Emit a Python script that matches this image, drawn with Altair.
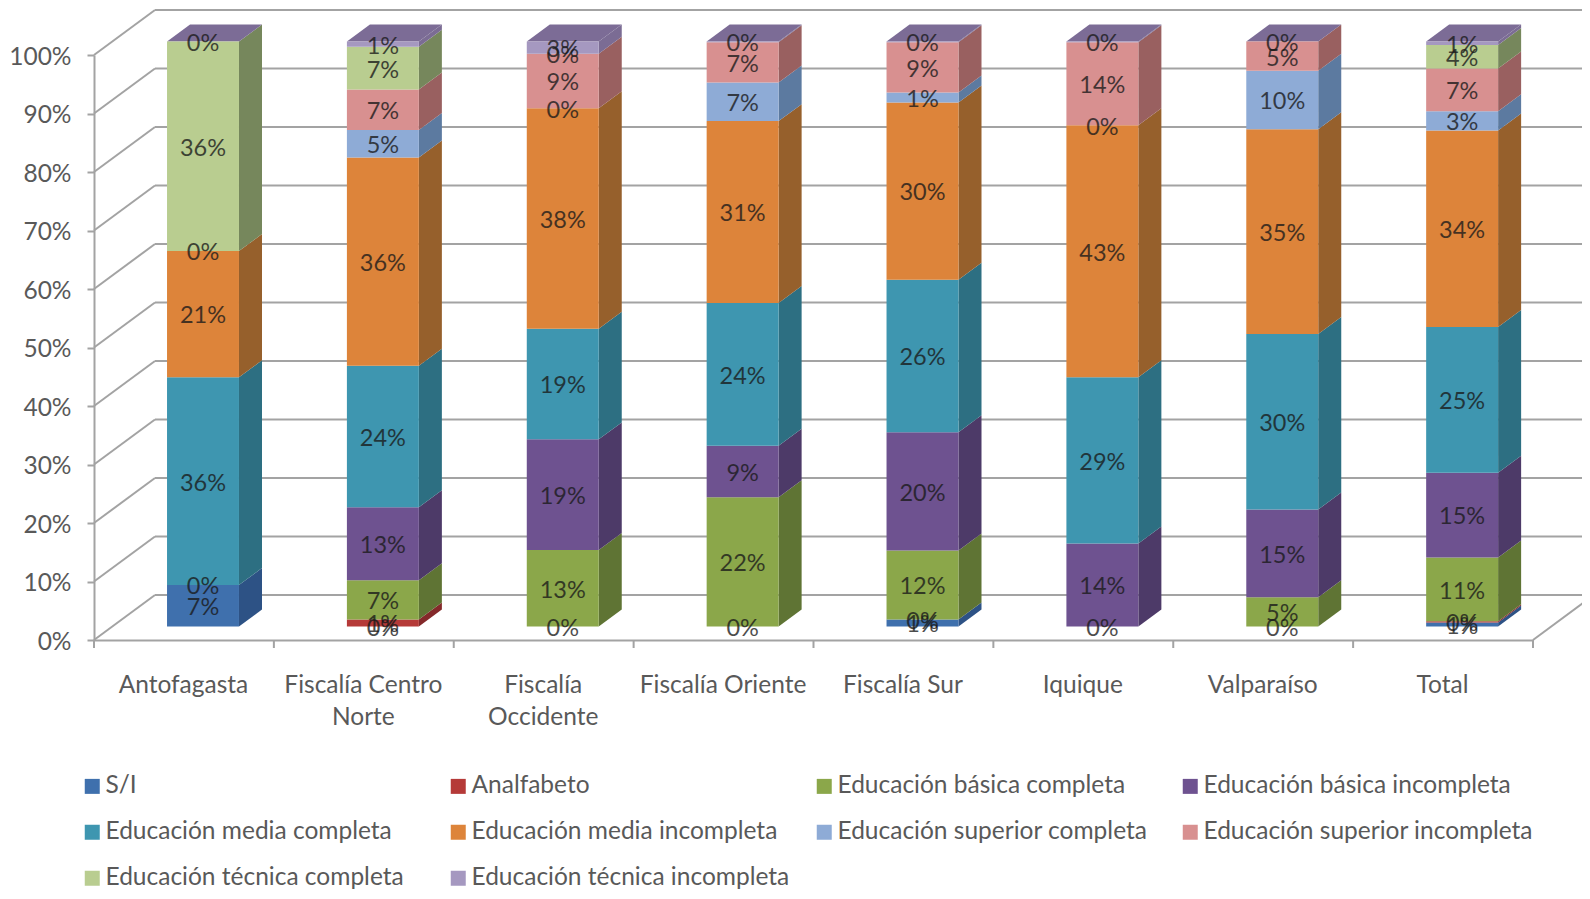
import json
import altair as alt
import pandas as pd

categories = ["Antofagasta", "Fiscalía Centro Norte", "Fiscalía Occidente", "Fiscalía Oriente",
              "Fiscalía Sur", "Iquique", "Valparaíso", "Total"]
category_lines = [["Antofagasta"], ["Fiscalía Centro", "Norte"], ["Fiscalía", "Occidente"], ["Fiscalía Oriente"],
                  ["Fiscalía Sur"], ["Iquique"], ["Valparaíso"], ["Total"]]
series = ["S/I", "Analfabeto", "Educación básica completa", "Educación básica incompleta",
          "Educación media completa", "Educación media incompleta", "Educación superior completa",
          "Educación superior incompleta", "Educación técnica completa", "Educación técnica incompleta"]
front_colors = ["#3f70ad", "#b53a38", "#8ba74a", "#6e5290", "#3e96b0", "#dd843a", "#8eabd6", "#d89090", "#b9cd90", "#a598c0"]
side_colors = ["#2d5285", "#84292a", "#5f7434", "#4d3a68", "#2d6f82", "#96602c", "#5c7aa0", "#996060", "#76875c", "#7b6c94"]
top_color = "#7c6c96"

v_antofagasta = [7.1, 0, 0, 0, 35.5, 21.6, 0, 0, 35.8, 0]
v_centro = [0, 1.2, 6.7, 12.5, 24.2, 35.6, 4.7, 6.9, 7.3, 0.9]
v_occidente = [0, 0, 13.1, 18.9, 18.9, 37.7, 0, 9.3, 0, 2.1]
v_oriente = [0, 0, 22.1, 8.8, 24.4, 31.1, 6.6, 6.9, 0, 0.1]
v_sur = [1.2, 0, 11.8, 20.2, 26.1, 30.3, 1.7, 8.6, 0, 0.1]
v_iquique = [0, 0, 0, 14.2, 28.4, 43.1, 0, 14.2, 0, 0.1]
v_valparaiso = [0, 0, 5.0, 15.0, 30.0, 35.0, 10.0, 5.0, 0, 0]
v_total = [0.7, 0.2, 10.9, 14.5, 24.9, 33.6, 3.3, 7.3, 4.0, 0.6]
values = [v_antofagasta, v_centro, v_occidente, v_oriente, v_sur, v_iquique, v_valparaiso, v_total]

l_antofagasta = ["7%", None, "0%", None, "36%", "21%", "0%", None, "36%", "0%"]
l_centro = ["0%", "1%", "7%", "13%", "24%", "36%", "5%", "7%", "7%", "1%"]
l_occidente = [None, "0%", "13%", "19%", "19%", "38%", "0%", "9%", "0%", "3%"]
l_oriente = [None, "0%", "22%", "9%", "24%", "31%", "7%", "7%", None, "0%"]
l_sur = ["1%", "0%", "12%", "20%", "26%", "30%", "1%", "9%", None, "0%"]
l_iquique = [None, "0%", None, "14%", "29%", "43%", "0%", "14%", None, "0%"]
l_valparaiso = [None, "0%", "5%", "15%", "30%", "35%", "10%", "5%", None, "0%"]
l_total = ["1%", "0%", "11%", "15%", "25%", "34%", "3%", "7%", "4%", "1%"]
labels = [l_antofagasta, l_centro, l_occidente, l_oriente, l_sur, l_iquique, l_valparaiso, l_total]

y_ticks = list(range(0, 101, 10))
x_boundaries = list(range(0, 9))

# depth geometry, in axis units
WALL_X, WALL_Y = 0.339, 7.7
BAR_L, BAR_R = 0.406, 0.806
BAR_DX, BAR_DY = 0.128, 2.9
FLOOR = 2.3
FONT = "Lato"
GRID = "#a3a3a3"

front, side, top, text = [], [], [], []
for c, (row, lab) in enumerate(zip(values, labels)):
    cum = 0
    for s, (v, t) in enumerate(zip(row, lab)):
        lo, hi = cum + FLOOR, cum + v + FLOOR
        cum += v
        front.append(dict(series=series[s], x=c + BAR_L, x2=c + BAR_R, y=lo, y2=hi))
        if v > 0:
            key = f"{c}-{s}"
            side.append(dict(k=key, col=side_colors[s], x=c + BAR_R, y=lo, y2=hi))
            side.append(dict(k=key, col=side_colors[s], x=c + BAR_R + BAR_DX, y=lo + BAR_DY, y2=hi + BAR_DY))
        if t:
            text.append(dict(x=c + (BAR_L + BAR_R) / 2, y=(lo + hi) / 2 - 0.4, t=t))
    T = cum + FLOOR
    for x, y, y2 in [(c + BAR_L, T, T), (c + BAR_L + BAR_DX, T + BAR_DY, T),
                     (c + BAR_R, T + BAR_DY, T), (c + BAR_R + BAR_DX, T + BAR_DY, T + BAR_DY)]:
        top.append(dict(k=c, x=x, y=y, y2=y2))

diag = []
for v in y_ticks:
    diag += [dict(k=f"l{v}", x=0, y=v), dict(k=f"l{v}", x=WALL_X, y=v + WALL_Y)]
diag += [dict(k="r", x=8, y=0), dict(k="r", x=8 + WALL_X, y=WALL_Y)]

x_scale = alt.Scale(domain=[0, 8], range=[86, 1525], nice=False, zero=False)
y_scale = alt.Scale(domain=[0, 100], range=[632, 47], nice=False, zero=False)
x_label_expr = json.dumps(category_lines, ensure_ascii=False) + "[floor(datum.value)]"
x_axis = alt.Axis(values=[i + 0.5 for i in range(8)], labelExpr=x_label_expr, ticks=False, grid=False,
                  domainColor=GRID, domainWidth=2, offset=-251, labelFont=FONT, labelFontSize=24.5,
                  labelColor="#595959", labelPadding=33, labelAngle=0, labelLineHeight=32,
                  labelAlign="center", labelBaseline="top", labelOffset=-1)
y_axis = alt.Axis(values=y_ticks, labelExpr="datum.value + '%'", grid=False, domainColor=GRID, domainWidth=2,
                  tickColor=GRID, tickWidth=2, tickSize=7, offset=-86, labelFont=FONT, labelFontSize=24.5,
                  labelColor="#595959", labelPadding=16, labelOffset=2)
X = alt.X("x:Q", scale=x_scale, title=None, axis=x_axis)
Y = alt.Y("y:Q", scale=y_scale, title=None, axis=y_axis)

wall = alt.Chart(pd.DataFrame([dict(x=WALL_X, x2=8 + WALL_X, y=v + WALL_Y) for v in y_ticks])).mark_rule(
    color=GRID, strokeWidth=2
).encode(x=X, x2="x2:Q", y=Y)
diagonals = alt.Chart(pd.DataFrame(diag)).mark_line(color=GRID, strokeWidth=2).encode(x=X, y=Y, detail="k:N")
x_ticks = alt.Chart(pd.DataFrame([dict(x=b, y=0, y2=-1.37) for b in x_boundaries])).mark_rule(
    color=GRID, strokeWidth=2
).encode(x=X, y=Y, y2="y2:Q")

sides = alt.Chart(pd.DataFrame(side)).mark_area(interpolate="linear").encode(
    x=X, y=Y, y2="y2:Q", detail="k:N", color=alt.Color("col:N", scale=None))
tops = alt.Chart(pd.DataFrame(top)).mark_area(interpolate="linear", color=top_color).encode(
    x=X, y=Y, y2="y2:Q", detail="k:N")
fronts = alt.Chart(pd.DataFrame(front)).mark_rect().encode(
    x=X, x2="x2:Q", y=Y, y2="y2:Q",
    color=alt.Color("series:N", scale=alt.Scale(domain=series, range=front_colors), sort=series, title=None,
                    legend=alt.Legend(orient="none", legendX=72, legendY=766, columns=4, gridAlign="all",
                                      direction="horizontal",
                                      symbolType="square", symbolSize=225, symbolStrokeWidth=0,
                                      labelFont=FONT, labelFontSize=24.5, labelColor="#595959", labelLimit=400,
                                      columnPadding=10, rowPadding=21, symbolOffset=0, labelOffset=1,
                                      padding=0, title=None)))
bar_text = alt.Chart(pd.DataFrame(text)).mark_text(
    font=FONT, fontSize=23.5, color="#1a1a1a", opacity=0.78, align="center", baseline="middle"
).encode(x=X, y=Y, text="t:N")

chart = alt.layer(wall, diagonals, x_ticks, sides, tops, fronts, bar_text).properties(
    width=1574, height=883, padding=0, autosize=alt.AutoSizeParams(type="none"), background="white"
).configure_view(stroke=None)

chart.save("out.html", embed_options={"renderer": "svg", "actions": False})
